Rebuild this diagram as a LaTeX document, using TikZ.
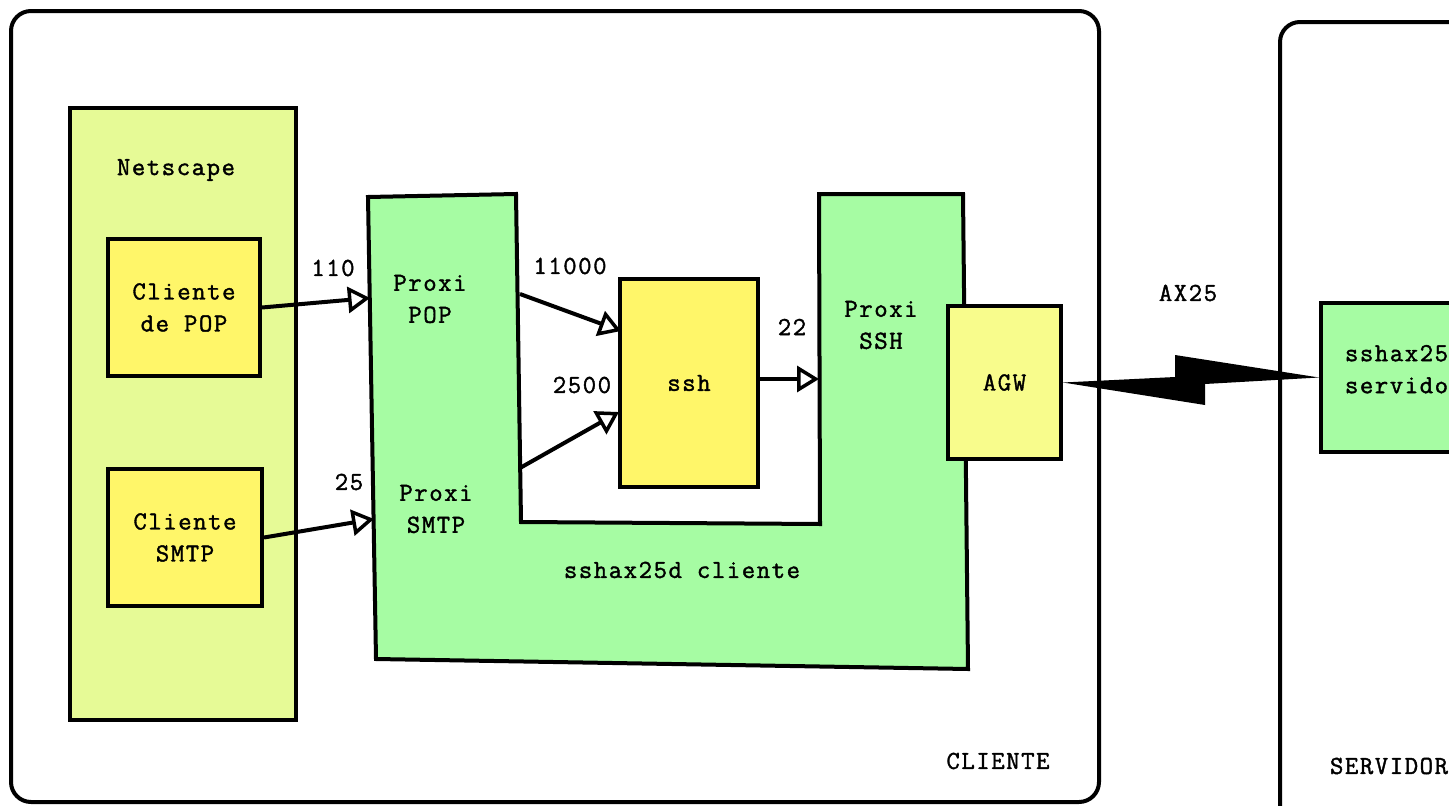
\documentclass[tikz,border=0pt]{standalone}
\usepackage{fontspec}
\setmonofont{Latin Modern Mono}[LetterSpace=6,FakeBold=1.5]
\usetikzlibrary{arrows.meta}
\definecolor{netc}{RGB}{230,250,150}
\definecolor{yelc}{RGB}{255,246,105}
\definecolor{grnc}{RGB}{166,252,163}
\definecolor{agwc}{RGB}{248,252,140}
\begin{document}
\begin{tikzpicture}[x=1pt,y=-1pt,line width=4pt,line join=miter,
  lbl/.style={font=\ttfamily\fontsize{26}{32}\selectfont,align=center,inner sep=0pt},
  box/.style={draw,line width=4pt,inner sep=0pt,font=\ttfamily\fontsize{26}{32}\selectfont,align=center},
  arr/.style={-{Triangle[open,length=22pt,width=26pt,line width=3.5pt]},line width=4pt}]
\useasboundingbox (0,0) rectangle (1449,806);
\begin{scope}
\clip (0,0) rectangle (1449,806);
% outer frames
\draw[rounded corners=20pt] (11,11) rectangle (1099,802);
\draw[rounded corners=20pt] (1280,22) rectangle (1520,860);
% Netscape
\node[box,fill=netc,minimum width=226pt,minimum height=612pt] (net) at (183,414) {};
\node[lbl] (nett) at (176,170) {Netscape};
\node[box,fill=yelc,minimum width=152pt,minimum height=137pt] (cpop) at (184,307.5) {Cliente\\de POP};
\node[box,fill=yelc,minimum width=154pt,minimum height=137pt] (csmtp) at (185,537.5) {Cliente\\SMTP};
% sshax25d cliente (U shape)
\filldraw[fill=grnc] (368,197) -- (516,194) -- (521,522) -- (820,524) -- (819,194) -- (963,194) -- (968,669) -- (376,659) -- cycle;
\node[lbl] (ppop) at (430,299) {Proxi\\POP};
\node[lbl] (psmtp) at (436,509) {Proxi\\SMTP};
\node[lbl] (pssh) at (881,325) {Proxi\\SSH};
\node[lbl] (sclt) at (682,570) {sshax25d cliente};
% ssh
\node[box,fill=yelc,minimum width=138pt,minimum height=208pt] (ssh) at (689,383) {ssh};
% AGW
\node[box,fill=agwc,minimum width=113pt,minimum height=153pt] (agw) at (1004.5,382.5) {AGW};
% server
\node[box,fill=grnc,anchor=north west,minimum width=220pt,minimum height=149pt] (srv) at (1319,301) {};
\node[lbl,anchor=north west,align=left] (srvt) at (1343,343) {sshax25d\\servidor};
% connection points
\coordinate (pp) at (370,298);
\coordinate (ps) at (374,519);
\coordinate (o1) at (520,294);
\coordinate (s1) at (621,331);
\coordinate (o2) at (520,468);
\coordinate (s2) at (619,412);
\coordinate (psh) at (819,379);
% arrows
\draw[arr] (cpop.east) -- (pp);
\draw[arr] (csmtp.east) -- (ps);
\draw[arr] (o1) -- (s1);
\draw[arr] (o2) -- (s2);
\draw[arr] (ssh.east |- psh) -- (psh);
% lightning
\fill (agw.east) -- (1175,377) -- (1175,355) -- (srv.west) -- (1205,384) -- (1205,405) -- cycle;
% labels
\node[lbl] (l110) at (333,268) {110};
\node[lbl] (l25) at (349,482) {25};
\node[lbl] (l11000) at (570,266) {11000};
\node[lbl] (l2500) at (582,385) {2500};
\node[lbl] (l22) at (792,327) {22};
\node[lbl] (lax) at (1188,293) {AX25};
\node[lbl] (lcl) at (998,761) {CLIENTE};
\node[lbl,anchor=west] (lsv) at (1328,766) {SERVIDOR};
\end{scope}
\end{tikzpicture}
\end{document}
